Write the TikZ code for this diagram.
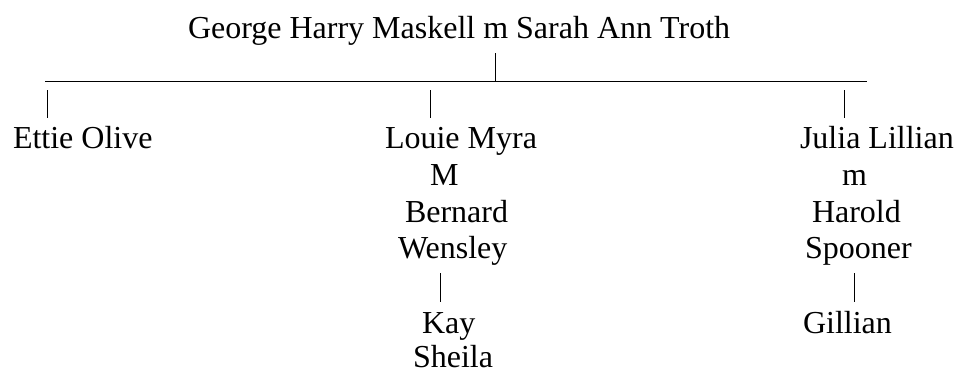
\documentclass[tikz,border=0pt]{standalone}
\usepackage{fontspec}
\setmainfont{Liberation Serif}
\begin{document}
\begin{tikzpicture}[x=1pt,y=-1pt,
  person/.style={anchor=base west,inner sep=0pt,outer sep=0pt,font=\fontsize{32}{38}\selectfont},
  link/.style={line width=1pt,black}]
\useasboundingbox (0,0) rectangle (957,372);
% people
\node[person] (title) at (188,38) {George Harry Maskell m Sarah Ann Troth};
\node[person] (ettie) at (13,148) {Ettie Olive};
\node[person] (louie) at (385,148) {Louie Myra};
\node[person] (lm) at (430,185) {M};
\node[person] (bernard) at (405,222) {Bernard};
\node[person] (wensley) at (398,258) {Wensley};
\node[person] (kay) at (422,333) {Kay};
\node[person] (sheila) at (413,367) {Sheila};
\node[person] (julia) at (800,148) {Julia Lillian};
\node[person] (jm) at (842,185) {m};
\node[person] (harold) at (812,222) {Harold};
\node[person] (spooner) at (805,258) {Spooner};
\node[person] (gillian) at (803,333) {Gillian};
% connectors
\coordinate (barL) at (45,81);
\coordinate (barR) at (867,81);
\coordinate (stemT) at (495,53);
\coordinate (stemB) at (495,81);
\draw[link] (barL) -- (barR);
\draw[link] (stemT) -- (stemB);
\coordinate (p1t) at (47,90);  \coordinate (p1b) at (47,118);
\coordinate (p2t) at (430,90); \coordinate (p2b) at (430,118);
\coordinate (p3t) at (844,90); \coordinate (p3b) at (844,118);
\draw[link] (p1t) -- (p1b);
\draw[link] (p2t) -- (p2b);
\draw[link] (p3t) -- (p3b);
\coordinate (p4t) at (440,273); \coordinate (p4b) at (440,302);
\coordinate (p5t) at (854,273); \coordinate (p5b) at (854,302);
\draw[link] (p4t) -- (p4b);
\draw[link] (p5t) -- (p5b);
\end{tikzpicture}
\end{document}
